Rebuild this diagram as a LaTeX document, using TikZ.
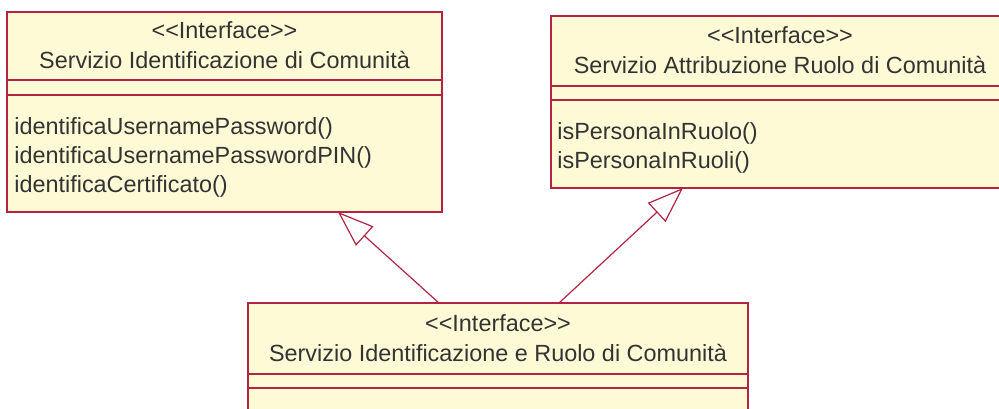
\documentclass[tikz,border=0pt]{standalone}
\usepackage{fontspec}
\newfontfamily\umlfont{Liberation Sans}[Ligatures=CommonOff]
\usepackage{tikz}
\usetikzlibrary{arrows.meta}

\definecolor{umlborder}{RGB}{178,36,66}
\definecolor{umlfill}{RGB}{255,250,214}
\definecolor{umltext}{RGB}{51,51,51}

\begin{document}
\begin{tikzpicture}[x=0.5pt, y=-0.5pt,
        classbox/.style={draw=umlborder, fill=umlfill, line width=0.75pt, rectangle,
            anchor=north west, inner sep=0pt, outer sep=0pt},
        compart/.style={draw=umlborder, line width=0.6pt},
        umltxt/.style={text=umltext, font=\umlfont\fontsize{11.7}{14}\selectfont, inner sep=0pt},
        stereo/.style={umltxt, anchor=base},
        classname/.style={umltxt, anchor=base},
        member/.style={umltxt, anchor=base west},
        realize/.style={draw=umlborder, line width=0.6pt,
            -{Triangle[open, length=18pt, width=13pt]}}]
        \clip (0,0) rectangle (999,408);

        % Servizio Identificazione di Comunita
        \node[classbox, minimum width=217.5pt, minimum height=100pt] (idcom) at (7,12) {};
        \draw[compart] ([yshift=-34pt]idcom.north west) -- ([yshift=-34pt]idcom.north east);
        \draw[compart] ([yshift=-41.5pt]idcom.north west) -- ([yshift=-41.5pt]idcom.north east);
        \node[stereo] (idcomst) at (224.5,38) {<<Interface>>};
        \node[classname] (idcomnm) at (224.5,68) {Servizio Identificazione di Comunità};
        \foreach \m [count=\i] in {identificaUsernamePassword(), identificaUsernamePasswordPIN(), identificaCertificato()}
            \node[member] (idcomop\i) at (14,{105+29*\i}) {\m};

        % Servizio Attribuzione Ruolo di Comunita
        \node[classbox, minimum width=229pt, minimum height=86pt] (attr) at (551,16) {};
        \draw[compart] ([yshift=-35pt]attr.north west) -- ([yshift=-35pt]attr.north east);
        \draw[compart] ([yshift=-42pt]attr.north west) -- ([yshift=-42pt]attr.north east);
        \node[stereo] (attrst) at (780,43) {<<Interface>>};
        \node[classname] (attrnm) at (780,73) {Servizio Attribuzione Ruolo di Comunità};
        \foreach \m [count=\i] in {isPersonaInRuolo(), isPersonaInRuoli()}
            \node[member] (attrop\i) at (557,{110+29*\i}) {\m};

        % Servizio Identificazione e Ruolo di Comunita
        \node[classbox, minimum width=250pt, minimum height=70pt] (idrl) at (248,303) {};
        \draw[compart] ([yshift=-35.5pt]idrl.north west) -- ([yshift=-35.5pt]idrl.north east);
        \draw[compart] ([yshift=-42.5pt]idrl.north west) -- ([yshift=-42.5pt]idrl.north east);
        \node[stereo] (idrlst) at (498,331) {<<Interface>>};
        \node[classname] (idrlnm) at (498,361) {Servizio Identificazione e Ruolo di Comunità};

        % Realizations
        \draw[realize] ([xshift=95.5pt]idrl.north west) -- ([xshift=165.5pt]idcom.south west);
        \draw[realize] ([xshift=155.5pt]idrl.north west) -- ([xshift=66pt]attr.south west);
    \end{tikzpicture}
\end{document}
